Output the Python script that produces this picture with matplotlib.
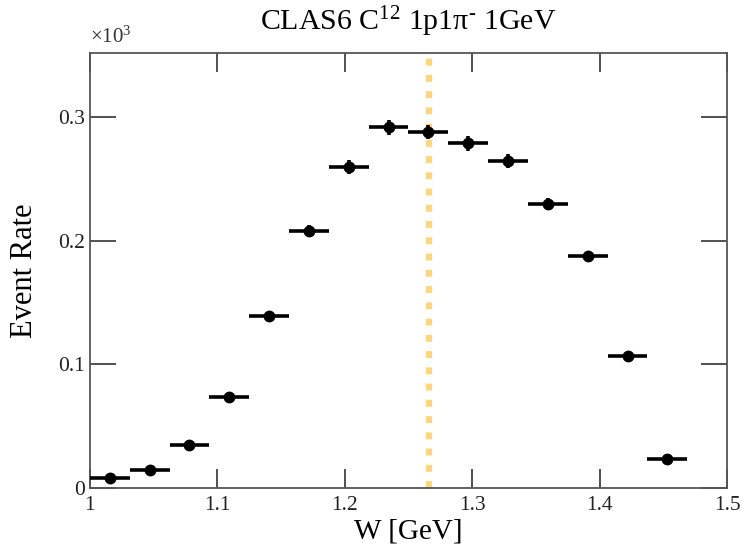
import numpy as np
import matplotlib
matplotlib.use('Agg')
import matplotlib.pyplot as plt
from matplotlib.ticker import FixedLocator, FixedFormatter

plt.rcParams['font.family'] = ['Liberation Serif', 'DejaVu Serif']
plt.rcParams['mathtext.fontset'] = 'custom'
plt.rcParams['mathtext.rm'] = 'Liberation Serif'
plt.rcParams['mathtext.it'] = 'Liberation Serif'

# W bin centres [GeV] and event rate (x10^3)
w_centers = [1.0156, 1.0469, 1.0781, 1.1094, 1.1406, 1.1719, 1.2031, 1.2344,
             1.2656, 1.2969, 1.3281, 1.3594, 1.3906, 1.4219, 1.4531]
rate = [0.0081, 0.0146, 0.0350, 0.0736, 0.1390, 0.2080, 0.2596, 0.2920,
        0.2880, 0.2790, 0.2644, 0.2297, 0.1876, 0.1067, 0.0235]
rate_err = [0.0015, 0.002, 0.002, 0.003, 0.004, 0.005, 0.0055, 0.006,
            0.006, 0.006, 0.0055, 0.005, 0.0045, 0.0035, 0.002]
bin_half = 0.03125 / 2
w_line = 1.2665

fig = plt.figure(figsize=(7.43, 5.48), dpi=100)
ax = fig.add_axes([0.121, 0.1095, 0.8575, 0.7938])

ax.axvline(w_line, color='#FFD57E', lw=4.5, linestyle=(0, (1.1, 1.5)), zorder=1)
ax.errorbar(w_centers, rate, xerr=bin_half, yerr=rate_err, fmt='o', color='black',
            ms=7.5, elinewidth=2.6, capsize=0, zorder=3)

ax.set_xlim(1.0, 1.5)
ax.set_ylim(0, 0.352)

ax.xaxis.set_major_locator(FixedLocator([1.0, 1.1, 1.2, 1.3, 1.4, 1.5]))
ax.xaxis.set_major_formatter(FixedFormatter(['1', '1.1', '1.2', '1.3', '1.4', '1.5']))
ax.yaxis.set_major_locator(FixedLocator([0, 0.1, 0.2, 0.3]))
ax.yaxis.set_major_formatter(FixedFormatter(['0', '0.1', '0.2', '0.3']))

ax.tick_params(direction='in', top=True, right=True, length=14, width=1.2,
               labelsize=15.5, colors='#333333', labelcolor='#222222')
ax.tick_params(axis='y', length=19)
ax.tick_params(axis='x', pad=6)
for s in ax.spines.values():
    s.set_color('#555555')
    s.set_linewidth(1.3)

ax.set_xlabel('W [GeV]', fontsize=21, labelpad=2)
ax.set_ylabel('Event Rate', fontsize=22, labelpad=14)
ax.set_title(r'CLAS6 C$^{12}$ 1p1π$^{\text{-}}$ 1GeV', fontsize=21.5, pad=16)
ax.text(0.0, 1.012, r'$\times$10$^{3}$', transform=ax.transAxes, fontsize=15,
        color='#333333', ha='left', va='bottom')

fig.savefig('out.png', dpi=100)
